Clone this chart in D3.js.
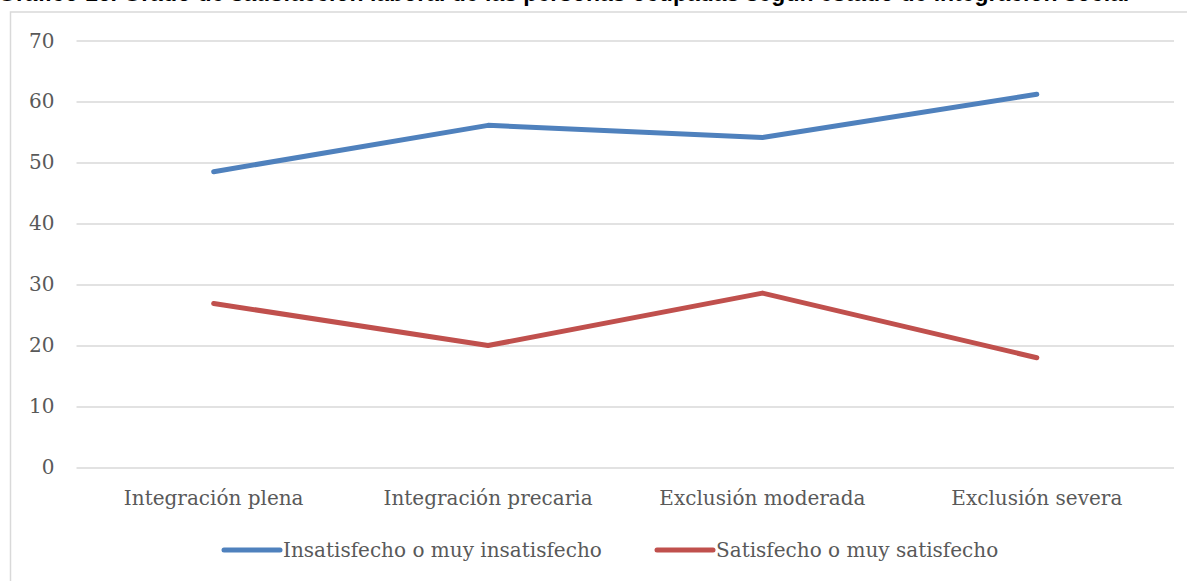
<!DOCTYPE html>
<html>
<head>
<meta charset="utf-8">
<script src="https://cdn.jsdelivr.net/npm/d3@7"></script>
<style>
  body { margin: 0; background: #ffffff; }
  svg { display: block; }
</style>
</head>
<body>
<svg id="chart" width="1187" height="581"></svg>
<script>
// Categories on the horizontal axis
const categories = ["Integración plena", "Integración precaria", "Exclusión moderada", "Exclusión severa"];
// Series values (%)
const insatisfecho = [48.5, 56.1, 54.1, 61.2];
const satisfecho = [26.9, 20.0, 28.6, 18.0];
const seriesNames = ["Insatisfecho o muy insatisfecho", "Satisfecho o muy satisfecho"];
const seriesColors = ["#4F81BD", "#C0504D"];
// Vertical axis ticks
const yTicks = [0, 10, 20, 30, 40, 50, 60, 70];
const titleText = "Gráfico 16. Grado de satisfacción laboral de las personas ocupadas según estado de integración social";

const svg = d3.select("#chart");
const W = 1187, H = 581;
const plot = { left: 76.5, right: 1174, top: 40.6, bottom: 467.5 };
const textColor = "#595959";
const gridColor = "#D9D9D9";
const labelFont = "'DejaVu Serif', 'Liberation Serif', serif";
const labelSize = 20;

svg.append("rect").attr("width", W).attr("height", H).attr("fill", "#fff");

// Title line (sits above the frame, at the page's top edge)
svg.append("text")
  .attr("x", -2).attr("y", 0.5)
  .attr("font-family", "'Liberation Sans', Arial, sans-serif")
  .attr("font-weight", "bold")
  .attr("font-size", 23)
  .attr("fill", "#000")
  .text(titleText);

// Chart frame
svg.append("rect")
  .attr("x", 10.5).attr("y", 12)
  .attr("width", W + 10).attr("height", H + 10)
  .attr("fill", "#fff")
  .attr("stroke", gridColor)
  .attr("stroke-width", 1.5);

const x = d3.scaleBand().domain(categories).range([plot.left, plot.right]).paddingInner(0).paddingOuter(0);
const xc = c => x(c) + x.bandwidth() / 2;
const y = d3.scaleLinear().domain([0, 70]).range([plot.bottom, plot.top]);

// Y axis with gridlines
const yAxis = d3.axisLeft(y)
  .tickValues(yTicks)
  .tickSize(-(plot.right - plot.left))
  .tickPadding(22)
  .tickFormat(d3.format("d"));

const gy = svg.append("g")
  .attr("transform", `translate(${plot.left},0)`)
  .call(yAxis);
gy.select(".domain").remove();
gy.selectAll(".tick line").attr("stroke", gridColor).attr("stroke-width", 1.5);
gy.selectAll(".tick text")
  .attr("font-family", labelFont)
  .attr("font-size", labelSize)
  .attr("fill", textColor);

// X axis labels
const xAxis = d3.axisBottom(x).tickSize(0).tickPadding(0);
const gx = svg.append("g")
  .attr("transform", `translate(0,${plot.bottom})`)
  .call(xAxis);
gx.select(".domain").remove();
gx.selectAll(".tick text")
  .attr("y", 37.5)
  .attr("dy", null)
  .attr("font-family", labelFont)
  .attr("font-size", labelSize)
  .attr("fill", textColor);

// Lines
const line = d3.line().x((d, i) => xc(categories[i])).y(d => y(d));
[insatisfecho, satisfecho].forEach((vals, i) => {
  svg.append("path")
    .datum(vals)
    .attr("d", line)
    .attr("fill", "none")
    .attr("stroke", seriesColors[i])
    .attr("stroke-width", 5)
    .attr("stroke-linecap", "round")
    .attr("stroke-linejoin", "round");
});

// Legend
const legendY = 550;
const legendItems = [{ x0: 224, x1: 280 }, { x0: 657, x1: 713 }];
seriesNames.forEach((name, i) => {
  const g = svg.append("g");
  g.append("line")
    .attr("x1", legendItems[i].x0).attr("x2", legendItems[i].x1)
    .attr("y1", legendY).attr("y2", legendY)
    .attr("stroke", seriesColors[i])
    .attr("stroke-width", 5)
    .attr("stroke-linecap", "round");
  g.append("text")
    .attr("x", legendItems[i].x1 + 3)
    .attr("y", legendY)
    .attr("dy", "0.35em")
    .attr("font-family", labelFont)
    .attr("font-size", labelSize)
    .attr("fill", textColor)
    .text(name);
});
</script>
</body>
</html>
